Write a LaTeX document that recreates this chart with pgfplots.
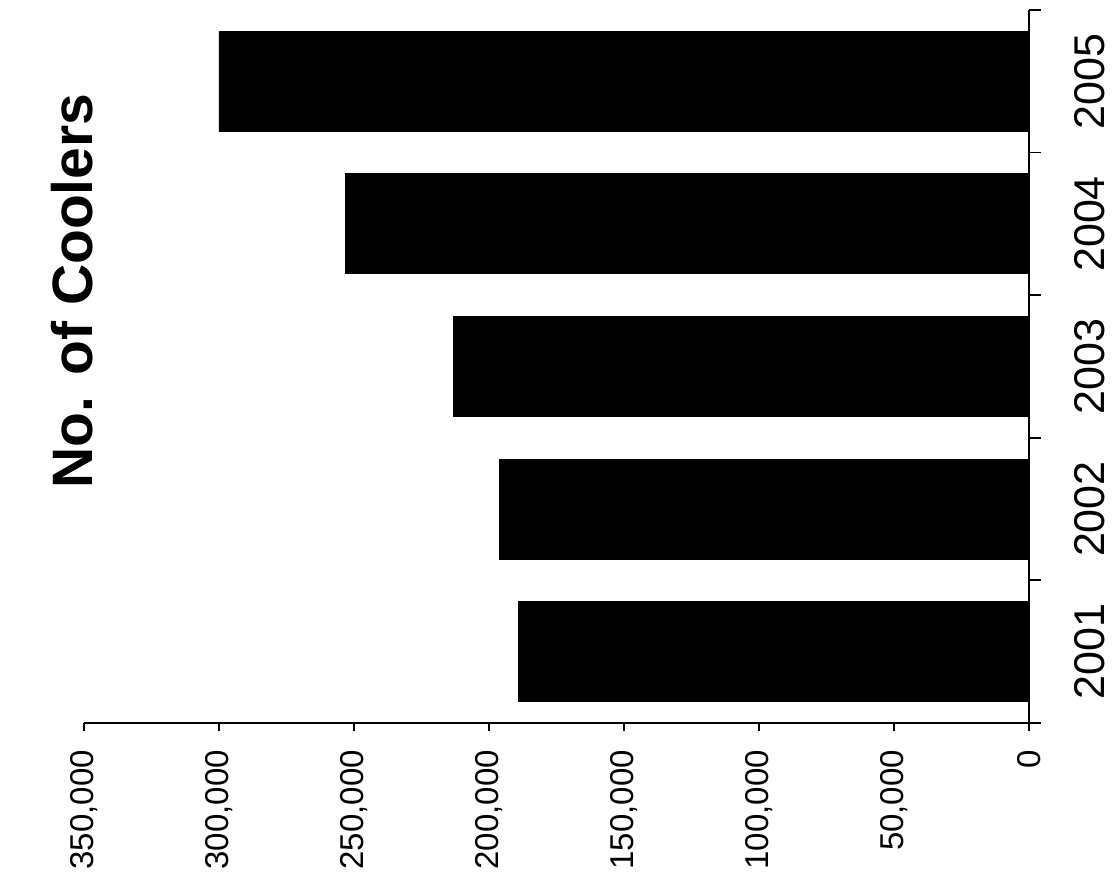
\documentclass[border=0pt]{standalone}
\usepackage{fontspec}
\setmainfont{Liberation Sans}
\usepackage{pgfplots}
\pgfplotsset{compat=1.18}
\begin{document}
\begin{tikzpicture}[x=1pt,y=1pt]
\useasboundingbox (-42,-82.5) rectangle (518,361.5);
\begin{axis}[
  at={(0,0)}, anchor=south west,
  scale only axis, width=472.5pt, height=356.5pt,
  xbar, bar width=50pt,
  x dir=reverse,
  xmin=0, xmax=350000,
  ymin=0.5, ymax=5.5,
  axis x line*=bottom, axis y line*=right,
  axis line style={line width=0.9pt},
  xtick={0,50000,100000,150000,200000,250000,300000,350000},
  scaled x ticks=false,
  /pgf/number format/fixed,
  /pgf/number format/precision=0,
  /pgf/number format/1000 sep={,},
  /pgf/number format/assume math mode=true,
  xticklabel style={font=\fontsize{16.5}{18}\selectfont, rotate=90, anchor=east},
  xticklabel shift=6pt,
  ytick={1,2,3,4,5},
  yticklabels={2001,2002,2003,2004,2005},
  yticklabel style={font=\fontsize{21.5}{24}\selectfont, rotate=90, anchor=north},
  yticklabel shift=15pt,
  minor ytick={0.5,1.5,2.5,3.5,4.5,5.5},
  tick align=outside,
  major tick length=4pt, minor tick length=6pt,
  tick style={line width=0.9pt, black},
  major y tick style={draw=none},
]
\addplot[fill=black, draw=black] coordinates {(189000,1) (196000,2) (213000,3) (253000,4) (300000,5)};
\end{axis}
\node[rotate=90, font=\bfseries\fontsize{28.5}{31}\selectfont] at (-6,216) {No. of Coolers};
\end{tikzpicture}
\end{document}
